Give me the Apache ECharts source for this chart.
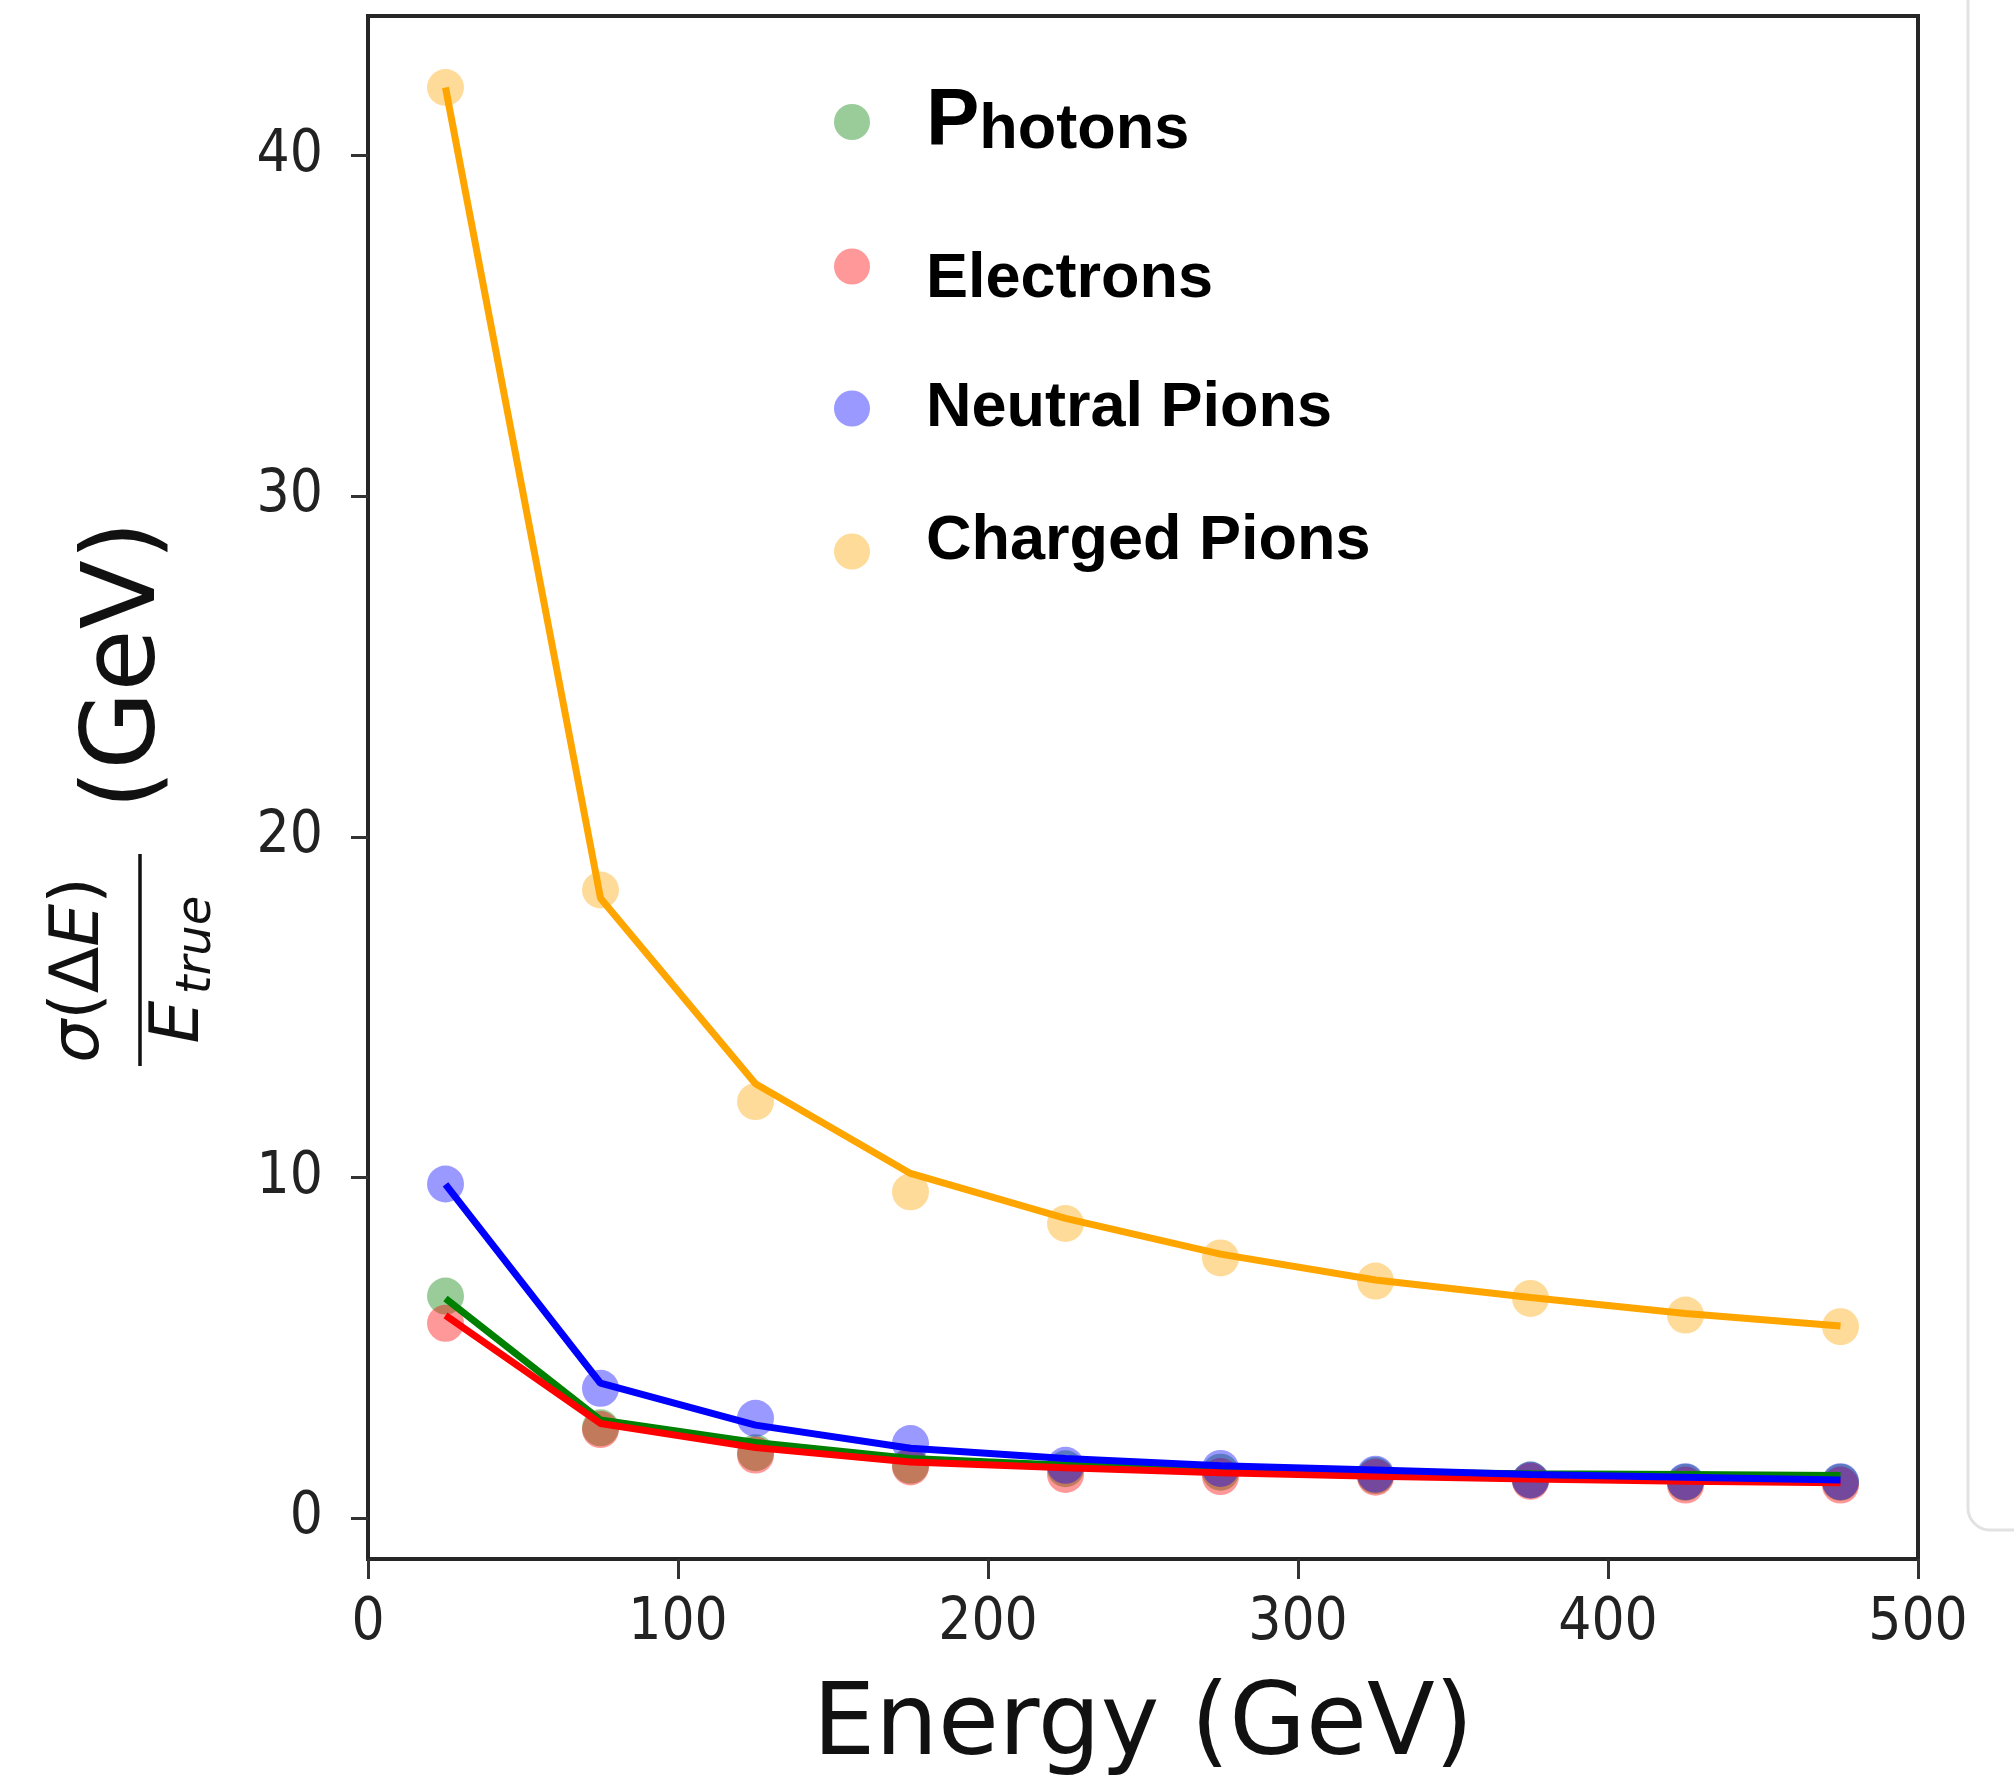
<!DOCTYPE html>
<html>
<head>
<meta charset="utf-8">
<script src="https://cdn.jsdelivr.net/npm/echarts@6/dist/echarts.min.js"></script>
<style>
  html, body { margin: 0; padding: 0; background: #ffffff; }
  #chart { width: 2014px; height: 1776px; }
</style>
</head>
<body>
<div id="chart"></div>
<script>
// Beam energies (GeV)
const energies = [25, 75, 125, 175, 225, 275, 325, 375, 425, 475];

// Measured resolution points
const photonPts   = [6.52, 2.65, 1.92, 1.55, 1.45, 1.35, 1.25, 1.12, 1.05, 1.05];
const electronPts = [5.72, 2.60, 1.85, 1.50, 1.28, 1.22, 1.20, 1.08, 0.97, 0.97];
const neutralPts  = [9.81, 3.81, 2.93, 2.19, 1.55, 1.46, 1.29, 1.12, 1.07, 1.07];
const chargedPts  = [42.0, 18.44, 12.23, 9.58, 8.65, 7.64, 6.96, 6.45, 5.96, 5.62];

// Fitted resolution curves
const photonFit   = [6.45, 2.88, 2.22, 1.75, 1.55, 1.42, 1.35, 1.30, 1.28, 1.25];
const electronFit = [5.95, 2.78, 2.07, 1.65, 1.48, 1.33, 1.23, 1.15, 1.08, 1.04];
const neutralFit  = [9.80, 3.96, 2.73, 2.05, 1.75, 1.54, 1.41, 1.28, 1.20, 1.12];
const chargedFit  = [42.0, 18.2, 12.75, 10.12, 8.80, 7.75, 6.99, 6.48, 6.01, 5.64];

// Axis ticks
const xTicks = [0, 100, 200, 300, 400, 500];
const yTicks = [0, 10, 20, 30, 40];
const yRange = [-1.2, 44.1];

const names = ['Photons', 'Electrons', 'Neutral Pions', 'Charged Pions'];
const lineColors = ['#008000', '#ff0000', '#0000ff', '#ffa500'];
const dotColors = ['rgba(0,128,0,0.5)', 'rgba(255,0,0,0.5)', 'rgba(0,0,255,0.5)', 'rgba(255,165,0,0.5)'];
const points = [photonPts, electronPts, neutralPts, chargedPts];
const fits = [photonFit, electronFit, neutralFit, chargedFit];

const pair = arr => energies.map((e, i) => [e, arr[i]]);

const tickFont = "'DejaVu Sans Condensed', 'DejaVu Sans'";
const legendFont = "'Liberation Sans', Arial, sans-serif";
const mathFont = "'DejaVu Sans'";

const series = [];
names.forEach((n, k) => {
  series.push({
    name: n,
    type: 'scatter',
    data: pair(points[k]),
    symbol: 'circle',
    symbolSize: 37,
    itemStyle: { color: dotColors[k] },
    z: 2
  });
});
names.forEach((n, k) => {
  series.push({
    name: n + ' fit',
    type: 'line',
    data: pair(fits[k]),
    showSymbol: false,
    symbol: 'none',
    lineStyle: { color: lineColors[k], width: 7 },
    itemStyle: { color: lineColors[k] },
    z: 3
  });
});

// One legend block per entry so each label can sit where it belongs;
// the tops allow for each label box being taller than its marker.
const legendTops = [82, 248, 377, 510];
const legendPad = [[0, 0, 0, 51], [26, 0, 0, 51], [0, 0, 0, 51], [0, 0, 20, 51]];
const legends = names.map((n, k) => ({
  data: [n],
  orient: 'vertical',
  left: 834,
  top: legendTops[k],
  padding: 0,
  itemGap: 0,
  itemWidth: 36,
  itemHeight: 36,
  icon: 'circle',
  selectedMode: false,
  formatter: k === 0 ? '{big|P}{norm|hotons}' : '{norm|{name}}',
  textStyle: {
    padding: legendPad[k],
    color: '#000',
    fontFamily: legendFont,
    fontWeight: 'bold',
    fontSize: 63,
    rich: {
      big: { fontSize: 80, fontWeight: 'bold', fontFamily: legendFont, color: '#000', verticalAlign: 'bottom' },
      norm: { fontSize: 63, fontWeight: 'bold', fontFamily: legendFont, color: '#000', verticalAlign: 'bottom' }
    }
  }
}));

const option = {
  animation: false,
  backgroundColor: '#ffffff',
  grid: {
    left: 368, right: 96, top: 16, bottom: 217,
    outerBoundsMode: 'none',
    containLabel: false,
    show: true, borderColor: '#262626', borderWidth: 4, backgroundColor: 'transparent'
  },
  legend: legends,
  xAxis: {
    type: 'value',
    min: xTicks[0],
    max: xTicks[xTicks.length - 1],
    interval: 100,
    name: 'Energy (GeV)',
    nameLocation: 'middle',
    nameGap: 120,
    nameTextStyle: { fontFamily: mathFont, fontSize: 99, color: '#111' },
    axisLine: { show: false, onZero: false },
    axisTick: { show: true, length: 20, lineStyle: { color: '#333', width: 3 } },
    axisLabel: { margin: 36, fontFamily: tickFont, fontSize: 58, color: '#222' },
    splitLine: { show: false }
  },
  yAxis: {
    type: 'value',
    min: yRange[0],
    max: yRange[1],
    axisLine: { show: false, onZero: false },
    axisTick: { show: true, length: 17, customValues: yTicks, lineStyle: { color: '#333', width: 3 } },
    axisLabel: { margin: 45, padding: [8, 0, 0, 0], fontFamily: tickFont, fontSize: 58, color: '#222', customValues: yTicks },
    splitLine: { show: false }
  },
  graphic: [
    {
      // rotated y-axis title: sigma(dE)/E_true (GeV)
      type: 'group',
      x: 0, y: 0,
      rotation: Math.PI / 2,
      children: [
        { type: 'text', x: -665, y: 128,
          style: { text: '(GeV)', font: '101px ' + mathFont, fill: '#111', align: 'center', verticalAlign: 'middle' } },
        { type: 'line', shape: { x1: -1066, y1: 140, x2: -854, y2: 140 },
          style: { stroke: '#111', lineWidth: 3.5 } },
        { type: 'text', x: -970, y: 80,
          style: {
            text: '{i|σ}{n|(Δ}{i|E}{n|)}', align: 'center', verticalAlign: 'middle',
            rich: {
              i: { fontFamily: mathFont, fontStyle: 'italic', fontSize: 68, fill: '#111' },
              n: { fontFamily: mathFont, fontSize: 68, fill: '#111' }
            }
          } },
        { type: 'text', x: -1022, y: 180,
          style: { text: 'E', font: 'italic 68px ' + mathFont, fill: '#111', align: 'center', verticalAlign: 'middle' } },
        { type: 'text', x: -945, y: 198,
          style: { text: 'true', font: 'italic 48px ' + mathFont, fill: '#111', align: 'center', verticalAlign: 'middle' } }
      ]
    },
    {
      type: 'rect',
      shape: { x: 1968, y: -40, width: 200, height: 1570, r: 22 },
      style: { fill: 'none', stroke: '#e2e2e2', lineWidth: 3 }
    }
  ],
  series: series
};

const chart = echarts.init(document.getElementById('chart'), null, { renderer: 'canvas' });
chart.setOption(option);
</script>
</body>
</html>
